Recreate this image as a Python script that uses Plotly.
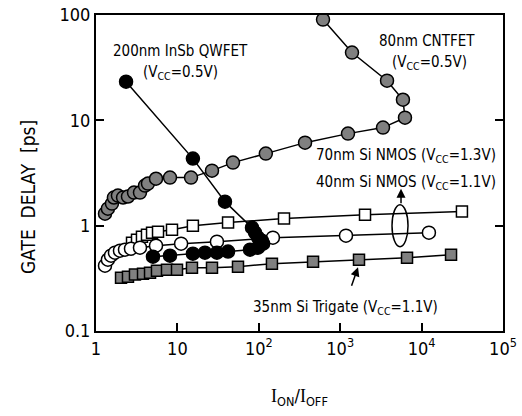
import plotly.graph_objects as go

# I_ON/I_OFF ratio vs. gate delay (ps) for each device
cnt_x = [1.29, 1.40, 1.57, 1.66, 1.86, 2.15, 2.47, 2.93, 3.47, 4.00, 4.35, 5.46, 8.11, 14.7,
         26.6, 48.2, 122, 370, 1247, 3357, 6250, 5900, 3760, 1396, 615]
cnt_y = [1.30, 1.45, 1.62, 1.85, 1.93, 1.85, 1.89, 2.06, 2.06, 2.40, 2.51, 2.79, 2.86, 2.86,
         3.33, 3.97, 4.83, 6.14, 7.48, 8.53, 10.6, 15.7, 23.8, 44.0, 90.4]

insb_x = [2.34, 15.5, 38.4, 82.5, 89.8, 97.7, 109, 113, 97.7, 78.0, 41.9, 30.6, 21.8, 15.5, 8.11, 5.01]
insb_y = [23.3, 4.33, 1.69, 0.957, 0.859, 0.77, 0.72, 0.675, 0.618, 0.592, 0.567, 0.554, 0.554,
          0.542, 0.519, 0.508]

nmos70_x = [2.77, 3.19, 3.67, 4.23, 4.88, 5.78, 8.58, 15.5, 41.9, 204, 2018, 31300]
nmos70_y = [0.690, 0.736, 0.786, 0.822, 0.858, 0.877, 0.916, 1.00, 1.07, 1.17, 1.27, 1.36]

nmos40_x = [1.29, 1.40, 1.53, 1.71, 1.97, 2.27, 2.69, 3.47, 5.46, 11.1, 30.6, 149, 1178, 12300]
nmos40_y = [0.417, 0.475, 0.519, 0.554, 0.579, 0.592, 0.605, 0.618, 0.646, 0.675, 0.705, 0.769,
            0.804, 0.858]

tri_x = [2.03, 2.47, 3.01, 3.78, 4.61, 5.61, 7.45, 9.89, 15.1, 26.6, 55.5, 145, 464, 1702, 6620, 23000]
tri_y = [0.321, 0.328, 0.343, 0.350, 0.358, 0.374, 0.382, 0.382, 0.399, 0.399, 0.408, 0.436,
         0.455, 0.476, 0.497, 0.530]

x_tickvals = [1, 10, 100, 1000, 10000, 100000]
x_ticktext = ["1", "10", "10<sup>2</sup>", "10<sup>3</sup>", "10<sup>4</sup>", "10<sup>5</sup>"]
y_tickvals = [0.1, 1, 10, 100]
y_ticktext = ["0.1", "1", "10", "100"]

FONT = "DejaVu Sans Condensed"
GRAY = "#808080"

fig = go.Figure()


def add_series(x, y, symbol, fill, size):
    fig.add_trace(go.Scatter(
        x=x, y=y, mode="lines+markers",
        line=dict(color="black", width=1.5),
        marker=dict(symbol=symbol, size=size, color=fill,
                    line=dict(color="black", width=1.5)),
        showlegend=False,
    ))


add_series(nmos70_x, nmos70_y, "square", "white", 11)
add_series(nmos40_x, nmos40_y, "circle", "white", 13)
add_series(tri_x, tri_y, "square", GRAY, 11)
add_series(cnt_x, cnt_y, "circle", GRAY, 13)
add_series(insb_x, insb_y, "circle", "black", 13)

# ellipse grouping the two Si NMOS curves
fig.add_shape(type="circle", xref="x", yref="y",
              x0=4330, x1=6810, y0=0.632, y1=1.58,
              line=dict(color="black", width=1.5))

text_font = dict(family=FONT, size=15, color="black")
labels = [
    ("200nm InSb QWFET", 1.044, 1.662, "center"),
    ("(V<sub>CC</sub>=0.5V)", 1.044, 1.453, "center"),
    ("80nm CNTFET", 4.066, 1.757, "center"),
    ("(V<sub>CC</sub>=0.5V)", 4.091, 1.548, "center"),
    ("70nm Si NMOS (V<sub>CC</sub>=1.3V)", 4.94, 0.665, "right"),
    ("40nm Si NMOS (V<sub>CC</sub>=1.1V)", 4.94, 0.408, "right"),
    ("35nm Si Trigate (V<sub>CC</sub>=1.1V)", 3.059, -0.779, "center"),
]
for txt, lx, ly, anchor in labels:
    fig.add_annotation(x=lx, y=ly, xref="x", yref="y", text=txt, showarrow=False,
                       xanchor=anchor, yanchor="middle", font=text_font)

# arrows: ellipse -> 40nm label, label -> trigate curve
fig.add_annotation(x=3.747, y=0.351, xref="x", yref="y", text="", showarrow=True,
                   ax=0, ay=16, arrowhead=2, arrowsize=1.2, arrowwidth=1.5, arrowcolor="black")
fig.add_annotation(x=3.219, y=-0.395, xref="x", yref="y", text="", showarrow=True,
                   ax=-7, ay=20, arrowhead=2, arrowsize=1.2, arrowwidth=1.5, arrowcolor="black")

# y-axis title
fig.add_annotation(x=28, y=197, xref="paper", yref="paper", text="GATE&nbsp;&nbsp;DELAY&nbsp;&nbsp;[ps]",
                   showarrow=False, textangle=-90, xanchor="center", yanchor="middle",
                   font=dict(family=FONT, size=19, color="black"))

fig.update_layout(
    width=522, height=416,
    margin=dict(l=96, r=19, t=15, b=85),
    paper_bgcolor="white", plot_bgcolor="white",
    font=dict(family=FONT, color="black"),
    xaxis=dict(
        type="log", range=[0, 5], automargin=False,
        tickvals=x_tickvals, ticktext=x_ticktext,
        ticks="inside", ticklen=8, tickwidth=1.5, tickcolor="black",
        showline=True, linewidth=2, linecolor="black", mirror=True,
        showgrid=False, zeroline=False,
        tickfont=dict(family=FONT, size=18),
        title=dict(text="<span style='font-family:Liberation Serif'>I</span><sub>ON</sub>/"
                        "<span style='font-family:Liberation Serif'>I</span><sub>OFF</sub>",
                   font=dict(family=FONT, size=18), standoff=32),
    ),
    yaxis=dict(
        type="log", range=[-1, 2], automargin=False,
        tickvals=y_tickvals, ticktext=y_ticktext,
        ticks="inside", ticklen=8, tickwidth=1.5, tickcolor="black",
        showline=True, linewidth=2, linecolor="black", mirror="ticks",
        showgrid=False, zeroline=False,
        tickfont=dict(family=FONT, size=18),
    ),
)

# paper coordinates for the y title are given in pixels above; convert to fractions
plot_w = 522 - 96 - 19
plot_h = 416 - 15 - 85
for ann in fig.layout.annotations:
    if ann.xref == "paper" and ann.textangle == -90:
        ann.x = (ann.x - 96) / plot_w
        ann.y = (416 - 85 - ann.y) / plot_h

fig.write_html("out.html")
